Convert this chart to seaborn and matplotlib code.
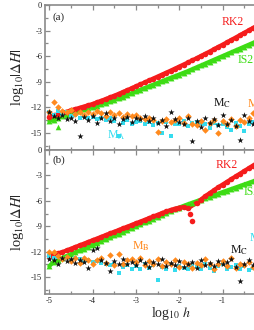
import numpy as np
import pandas as pd
import matplotlib
matplotlib.use("Agg")
import matplotlib.pyplot as plt
import seaborn as sns

# ---------------- data ----------------
log_h = [-5.0, -4.9, -4.8, -4.7, -4.6, -4.5, -4.4, -4.3, -4.2, -4.1,
         -4.0, -3.9, -3.8, -3.7, -3.6, -3.5, -3.4, -3.3, -3.2, -3.1,
         -3.0, -2.9, -2.8, -2.7, -2.6, -2.5, -2.4, -2.3, -2.2, -2.1,
         -2.0, -1.9, -1.8, -1.7, -1.6, -1.5, -1.4, -1.3, -1.2, -1.1,
         -1.0, -0.9, -0.8, -0.7, -0.6, -0.5, -0.4, -0.3, -0.2]

# panel (a)
rk2_a = [-13.10, -12.95, -12.80, -12.65, -12.50, -12.35, -12.20, -12.05, -11.90, -11.75,
         -11.60, -11.41, -11.22, -11.03, -10.83, -10.63, -10.42, -10.20, -9.98, -9.76,
         -9.53, -9.31, -9.08, -8.85, -8.62, -8.39, -8.16, -7.93, -7.70, -7.46,
         -7.22, -6.98, -6.74, -6.49, -6.24, -5.98, -5.72, -5.46, -5.19, -4.92,
         -4.65, -4.38, -4.10, -3.82, -3.54, -3.26, -2.98, -2.70, -2.42]
is2_a = [-13.60, -13.45, -13.20, -13.00, -12.85, -12.70, -12.55, -12.40, -12.25, -12.10,
         -11.95, -11.79, -11.62, -11.45, -11.28, -11.11, -10.93, -10.73, -10.53, -10.34,
         -10.14, -9.94, -9.74, -9.54, -9.34, -9.14, -8.94, -8.74, -8.54, -8.35,
         -8.15, -7.95, -7.75, -7.53, -7.31, -7.09, -6.87, -6.65, -6.43, -6.21,
         -5.99, -5.77, -5.55, -5.33, -5.11, -4.89, -4.67, -4.45, -4.23]
is2_a_out_x = [-4.8]
is2_a_out_y = [-14.3]
mA_a = [-12.6, -12.9, -12.4, -12.8, -12.6, -13.0, -12.9, -13.2, -13.0, -13.3,
        -13.1, -13.4, -13.2, -13.5, -13.3, -13.6, -15.3, -13.8, -13.5, -13.9,
        -13.7, -13.6, -13.9, -13.7, -14.1, -13.8, -15.0, -13.7, -15.4, -13.9,
        -14.0, -13.6, -14.2, -13.8, -13.7, -14.0, -13.9, -14.4, -13.8, -14.1,
        -13.9, -14.3, -14.6, -13.8, -14.2, -14.8, -14.0, -13.7, -14.3]
mB_a = [-12.5, -11.4, -11.9, -12.4, -12.6, -12.3, -12.8, -12.6, -12.9, -12.5,
        -12.8, -12.4, -12.7, -13.0, -12.6, -12.9, -12.7, -13.1, -12.8, -13.0,
        -12.9, -13.2, -13.4, -13.3, -13.5, -14.9, -13.6, -13.4, -13.7, -13.5,
        -13.3, -13.8, -13.0, -13.9, -14.1, -13.6, -14.7, -13.8, -13.5, -15.0,
        -13.6, -13.9, -13.4, -14.2, -13.5, -13.7, -13.2, -12.7, -14.4]
mC_a = [-12.6, -13.0, -13.3, -12.9, -13.4, -13.2, -13.6, -15.4, -13.1, -13.5,
        -13.0, -13.8, -13.3, -12.7, -13.6, -13.2, -13.9, -13.4, -13.1, -13.7,
        -13.2, -13.4, -13.0, -13.6, -13.3, -13.8, -13.5, -14.2, -12.5, -13.4,
        -13.7, -14.0, -13.3, -16.0, -13.6, -14.3, -13.2, -13.8, -13.4, -14.1,
        -12.9, -13.9, -13.5, -14.2, -15.8, -12.9, -13.6, -14.0, -13.3]

# panel (b)
rk2_b_x = [-5.0, -4.9, -4.8, -4.7, -4.6, -4.5, -4.4, -4.3, -4.2, -4.1,
           -4.0, -3.9, -3.8, -3.7, -3.6, -3.5, -3.4, -3.3, -3.2, -3.1,
           -3.0, -2.9, -2.8, -2.7, -2.6, -2.5, -2.4, -2.3, -2.2, -2.1,
           -2.0, -1.9, -1.8,
           -1.6, -1.5, -1.4, -1.3, -1.2, -1.1,
           -1.0, -0.9, -0.8, -0.7, -0.6, -0.5, -0.4, -0.3, -0.2]
rk2_b = [-12.55, -12.25, -12.20, -12.05, -11.85, -11.65, -11.45, -11.25, -11.05, -10.85,
         -10.65, -10.45, -10.25, -10.05, -9.85, -9.65, -9.45, -9.25, -9.05, -8.85,
         -8.65, -8.45, -8.25, -8.05, -7.85, -7.65, -7.45, -7.26, -7.08, -6.92,
         -6.80, -6.75, -6.90,
         -6.25, -5.85, -5.45, -5.10, -4.75, -4.40,
         -4.08, -3.76, -3.44, -3.12, -2.80, -2.48, -2.16, -1.84, -1.52]
rk2_b_dip_x = [-1.76, -1.70]
rk2_b_dip_y = [-7.5, -8.4]
is2_b = [-13.70, -13.20, -12.95, -12.73, -12.51, -12.29, -12.07, -11.85, -11.63, -11.41,
         -11.19, -10.97, -10.75, -10.53, -10.31, -10.09, -9.87, -9.65, -9.43, -9.21,
         -8.99, -8.77, -8.55, -8.33, -8.11, -7.89, -7.67, -7.45, -7.23, -7.01,
         -6.80, -6.60, -6.41, -6.23, -6.05, -5.87, -5.69, -5.51, -5.33, -5.15,
         -4.97, -4.79, -4.61, -4.43, -4.25, -4.07, -3.89, -3.71, -3.53]
mA_b = [-12.5, -12.8, -12.6, -12.9, -12.7, -13.0, -12.8, -12.9, -13.1, -13.0,
        -13.2, -13.1, -13.3, -13.4, -13.6, -13.5, -14.5, -13.8, -13.6, -14.0,
        -13.7, -14.1, -13.5, -13.9, -13.6, -15.3, -13.8, -14.0, -13.5, -14.2,
        -13.7, -13.9, -14.1, -13.6, -13.8, -14.0, -13.5, -13.9, -14.3, -13.7,
        -13.4, -14.1, -13.8, -13.6, -14.0, -13.7, -14.2, -13.9, -13.6]
mB_b = [-12.0, -12.0, -12.5, -12.9, -12.6, -13.1, -12.8, -13.3, -12.7, -13.0,
        -13.5, -13.0, -12.8, -13.3, -12.4, -13.6, -12.3, -13.4, -13.0, -12.9,
        -13.2, -12.7, -13.6, -13.1, -13.4, -12.9, -13.7, -13.2, -13.5, -13.0,
        -13.8, -13.2, -13.5, -13.9, -13.3, -13.6, -12.9, -13.4, -14.0, -13.5,
        -13.1, -13.7, -12.8, -13.9, -13.4, -13.6, -13.2, -13.8, -13.3]
mC_b = [-12.9, -13.0, -13.4, -12.7, -13.1, -12.9, -13.3, -13.0, -13.2, -13.9,
        -11.8, -11.6, -13.0, -13.3, -14.3, -13.1, -13.5, -12.9, -13.4, -13.2,
        -13.6, -13.0, -13.3, -13.8, -13.2, -13.5, -12.9, -13.7, -13.3, -13.6,
        -13.1, -13.8, -13.4, -13.2, -13.9, -13.0, -13.6, -13.3, -13.7, -13.1,
        -13.5, -13.2, -12.9, -13.8, -15.5, -13.4, -13.0, -13.6, -13.3]

x_ticks = [-5, -4, -3, -2, -1]
x_tick_labels = ["-5", "-4", "-3", "-2", "-1"]
y_ticks = [0, -3, -6, -9, -12, -15]
y_tick_labels = ["0", "-3", "-6", "-9", "-12", "-15"]

# ---------------- style ----------------
RED = "#f51c1c"
GREEN = "#3ddc14"
CYAN = "#35dcef"
ORANGE = "#ff8a1e"
BLACK = "#111111"
SPINE = "#8a8a8a"

sns.set_theme(style="white")
plt.rcParams["font.family"] = ["Liberation Serif", "DejaVu Serif"]
plt.rcParams["mathtext.fontset"] = "stix"
plt.rcParams["axes.unicode_minus"] = False

fig = plt.figure(figsize=(2.55, 3.3), dpi=100)
W, H = 255.0, 330.0
left = 45 / W
ax_a = fig.add_axes([left, 1 - 150 / H, 1 - left, 145 / H])
ax_b = fig.add_axes([left, 1 - 294 / H, 1 - left, 144 / H])


def curve(ax, xs, ys, color, marker, s):
    sns.lineplot(x=xs, y=ys, color=color, lw=3.0, estimator=None, sort=False,
                 ax=ax, zorder=2)
    sns.scatterplot(x=xs, y=ys, color=color, marker=marker, s=s, linewidth=0,
                    ax=ax, zorder=3)


def noise(ax, ys, color, marker, s, z):
    sns.scatterplot(x=log_h, y=ys, color=color, marker=marker, s=s,
                    linewidth=0, ax=ax, zorder=z)


def style(ax):
    ax.set_xlim(-5.1, -0.25)
    ax.set_ylim(-17, 0)
    ax.set_xticks(x_ticks)
    ax.set_xticklabels(x_tick_labels)
    ax.set_xticks([-4.5, -3.5, -2.5, -1.5, -0.5], minor=True)
    ax.set_yticks(y_ticks)
    ax.set_yticklabels(y_tick_labels)
    ax.set_yticks([-1.5, -4.5, -7.5, -10.5, -13.5, -16.5], minor=True)
    for sp in ["left", "top", "bottom"]:
        ax.spines[sp].set_color(SPINE)
        ax.spines[sp].set_linewidth(1.2)
    ax.spines["right"].set_visible(False)
    ax.tick_params(which="both", direction="in", top=True, bottom=True,
                   left=True, right=False, color=SPINE, width=0.9)
    ax.tick_params(which="major", length=3.5, labelsize=6, pad=2,
                   labelcolor="#222222")
    ax.tick_params(which="minor", length=2)
    ax.set_ylabel(r"log$_{10}|\Delta H|$", fontsize=10.5)
    ax.yaxis.set_label_coords(-0.09, 0.5)


# panel (a)
curve(ax_a, log_h, is2_a, GREEN, "^", 18)
sns.scatterplot(x=is2_a_out_x, y=is2_a_out_y, color=GREEN, marker="^", s=16,
                linewidth=0, ax=ax_a, zorder=3)
curve(ax_a, log_h, rk2_a, RED, "o", 16)
noise(ax_a, mA_a, CYAN, "s", 12, 4)
noise(ax_a, mB_a, ORANGE, "D", 11, 5)
noise(ax_a, mC_a, BLACK, "*", 22, 6)
style(ax_a)
ax_a.tick_params(labelbottom=False)
ax_a.set_xlabel("")

# panel (b)
curve(ax_b, log_h, is2_b, GREEN, "^", 18)
curve(ax_b, rk2_b_x, rk2_b, RED, "o", 16)
sns.scatterplot(x=rk2_b_dip_x, y=rk2_b_dip_y, color=RED, marker="o", s=16,
                linewidth=0, ax=ax_b, zorder=3)
noise(ax_b, mA_b, CYAN, "s", 12, 4)
noise(ax_b, mB_b, ORANGE, "D", 11, 5)
noise(ax_b, mC_b, BLACK, "*", 22, 6)
style(ax_b)
ax_b.set_xlabel(r"log$_{10}$ $h$", fontsize=10)
ax_b.xaxis.set_label_coords(0.6, -0.075)

# annotations
fs = 8.5
ax_a.text(-4.93, -1.4, "(a)", fontsize=8, va="center", ha="left")
ax_b.text(-4.93, -1.25, "(b)", fontsize=8, va="center", ha="left")
ax_a.text(-0.77, -2.0, "RK2", color=RED, fontsize=fs, ha="center", va="center")
ax_a.text(-0.47, -6.5, "IS2", color=GREEN, fontsize=fs, ha="center", va="center")
ax_a.text(-1.21, -11.55, r"M$_{\rm C}$", color=BLACK, fontsize=fs, ha="left", va="center")
ax_a.text(-0.43, -11.6, r"M$_{\rm B}$", color=ORANGE, fontsize=fs, ha="left", va="center")
ax_a.text(-3.67, -15.3, r"M$_{\rm A}$", color=CYAN, fontsize=fs, ha="left", va="center")
ax_b.text(-0.9, -1.72, "RK2", color=RED, fontsize=fs, ha="center", va="center")
ax_b.text(-0.52, -4.9, "IS2", color=GREEN, fontsize=fs, ha="left", va="center")
ax_b.text(-3.09, -11.4, r"M$_{\rm B}$", color=ORANGE, fontsize=fs, ha="left", va="center")
ax_b.text(-0.82, -11.8, r"M$_{\rm C}$", color=BLACK, fontsize=fs, ha="left", va="center")
ax_b.text(-0.40, -10.4, r"M$_{\rm A}$", color=CYAN, fontsize=fs, ha="left", va="center")

fig.savefig("out.png", dpi=100)
